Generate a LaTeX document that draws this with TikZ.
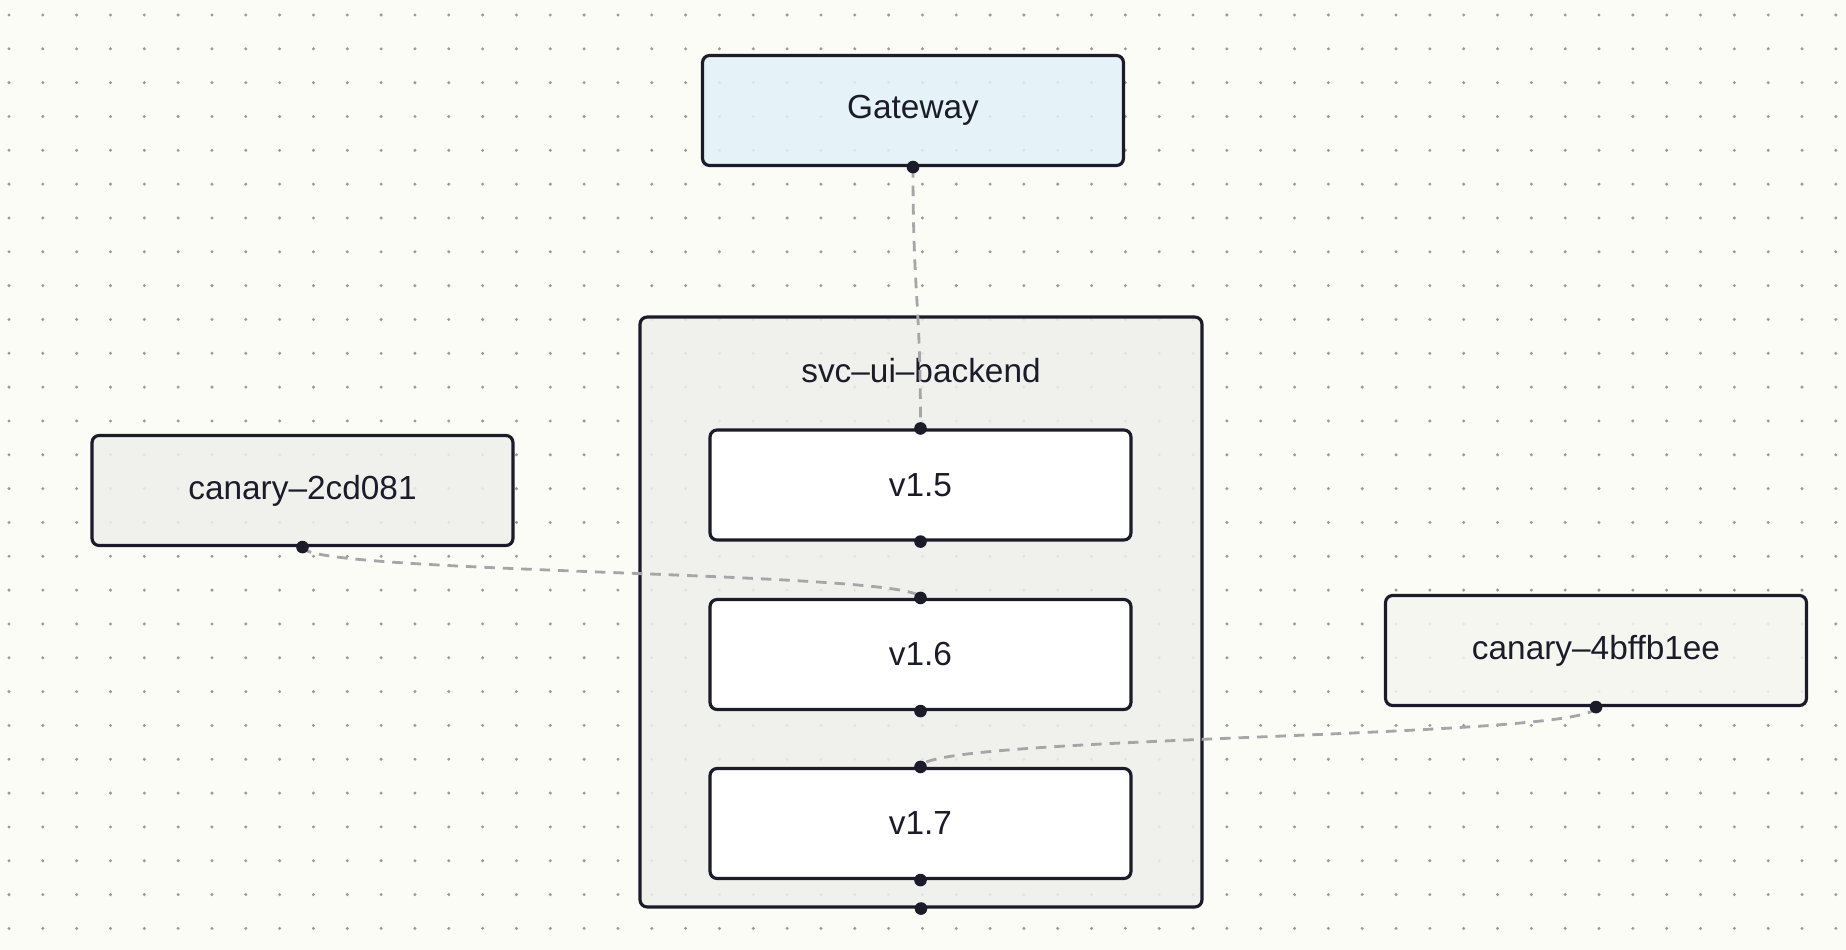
\documentclass[tikz,border=0pt]{standalone}
\usepackage{fontspec}
\setmainfont{Liberation Sans}
\definecolor{ink}{HTML}{1B1B2A}
\definecolor{paper}{HTML}{FCFCF7}
\definecolor{griddot}{HTML}{9A9A98}
\definecolor{wire}{HTML}{A6A6AA}
\definecolor{sky}{HTML}{E2F2F9}
\definecolor{shell}{HTML}{EFEFEB}
\definecolor{mist}{HTML}{EFEFEB}
\definecolor{haze}{HTML}{F6F6F0}
\tikzset{
    box/.style={draw=ink, line width=1.8pt, rounded corners=4pt, text=ink,
        minimum width=8.42cm, minimum height=2.2cm, fill opacity=0.85, text opacity=1,
        font=\fontsize{19}{23}\selectfont},
    wire/.style={draw=wire, line width=1.6pt, dash pattern=on 6pt off 4.5pt},
}
\begin{document}
\begin{tikzpicture}[x=0.02cm, y=-0.02cm]
    \fill[paper] (0, 0) rectangle (1846, 950);
    \foreach \i in {0,...,54}
        \foreach \j in {0,...,27}
            \fill[griddot] (9+33.83*\i, 15+33.83*\j) circle (0.95pt);

    \node[box, fill=sky] (gateway) at (913, 110.5) {Gateway};
    \node[box, fill=shell, minimum width=11.24cm, minimum height=11.8cm] (svc) at (921, 612) {};
    \node[text=ink, font=\fontsize{19}{23}\selectfont] (svclabel) at (921, 371) {svc–ui–backend};
    \node[box, fill=white, fill opacity=1] (v15) at (920.5, 485) {v1.5};
    \node[box, fill=white, fill opacity=1] (v16) at (920.5, 654.5) {v1.6};
    \node[box, fill=white, fill opacity=1] (v17) at (920.5, 823.5) {v1.7};
    \node[box, fill=mist] (c2cd) at (302.5, 490.5) {canary–2cd081};
    \node[box, fill=haze] (c4bf) at (1596, 650.5) {canary–4bffb1ee};

    \draw[wire] (gateway.south) .. controls +(0, 132) and +(0, -132) .. (v15.north);
    \draw[wire] (c2cd.south) .. controls +(0, 27) and +(0, -27) .. (v16.north);
    \draw[wire] (c4bf.south) .. controls +(0, 32) and +(0, -32) .. (v17.north);

    \foreach \p in {gateway.south, v15.north, v15.south, v16.north, v16.south,
                    v17.north, v17.south, svc.south, c2cd.south, c4bf.south}
        \fill[ink] (\p) circle (3.6pt);
\end{tikzpicture}
\end{document}
